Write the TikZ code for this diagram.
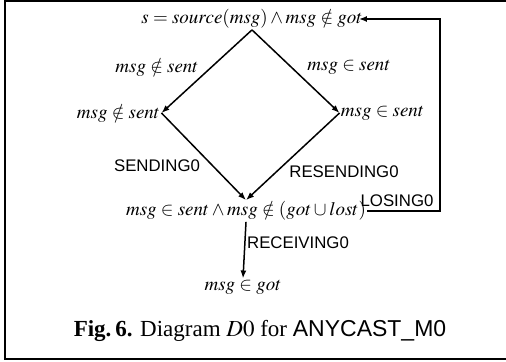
\documentclass[tikz,border=0pt]{standalone}
\usepackage{mathptmx}
\usepackage{fontspec}
\setmainfont{Liberation Serif}
\setsansfont{Liberation Sans}
\usetikzlibrary{arrows.meta}
\begin{document}
\begin{tikzpicture}[x=0.5pt,y=-0.5pt,
  state/.style={inner sep=0.5pt, font=\fontsize{9.5}{11}\selectfont},
  lbl/.style={inner sep=0pt, font=\fontsize{9.5}{11}\selectfont},
  evt/.style={inner sep=0pt, font=\sffamily\fontsize{8.4}{10}\selectfont},
  conn/.style={line width=0.75pt, -{Latex[length=4pt,width=3pt]}},
  plain/.style={line width=0.75pt}]
\useasboundingbox (0,0) rectangle (506,362);
% frame
\draw[line width=1pt] (506,1) -- (5,1) -- (5,359) -- (506,359);
% states
\node[state] (top) at (252,19) {$s = source(msg) \wedge msg \notin got$};
\node[state] (left) at (118.5,113) {$msg \notin sent$};
\node[state] (right) at (382.5,113) {$msg \in sent$};
\node[state] (bot) at (246,211) {$msg \in sent \wedge msg \notin (got \cup lost)$};
\node[state] (got) at (243,287) {$msg \in got$};
% edges
\draw[conn] (top.south) -- (left.east);
\draw[conn] (top.south) -- (right.west);
\draw[conn] (left.east) -- (bot.north);
\draw[conn] (right.west) -- (bot.north);
\draw[conn] (bot.south) -- (got.north);
\coordinate (rc) at (440,21);
\draw[conn, shorten >=-2.5pt] (bot.east) -| (rc) |- (top.east);
% labels
\node[lbl] (l1) at (157,67) {$msg \notin sent$};
\node[lbl] (l2) at (349,67) {$msg \in sent$};
\node[evt] (e1) at (157,166) {SENDING0};
\node[evt] (e2) at (344,172) {RESENDING0};
\node[evt] (e3) at (397,201) {LOSING0};
\node[evt] (e4) at (298,243) {RECEIVING0};
% caption
\node[inner sep=0pt, font=\fontsize{11.5}{13}\selectfont] (cap) at (260,331)
  {\textbf{Fig.\,6.} Diagram $D0$ for \textsf{ANYCAST\_M0}};
\end{tikzpicture}
\end{document}
